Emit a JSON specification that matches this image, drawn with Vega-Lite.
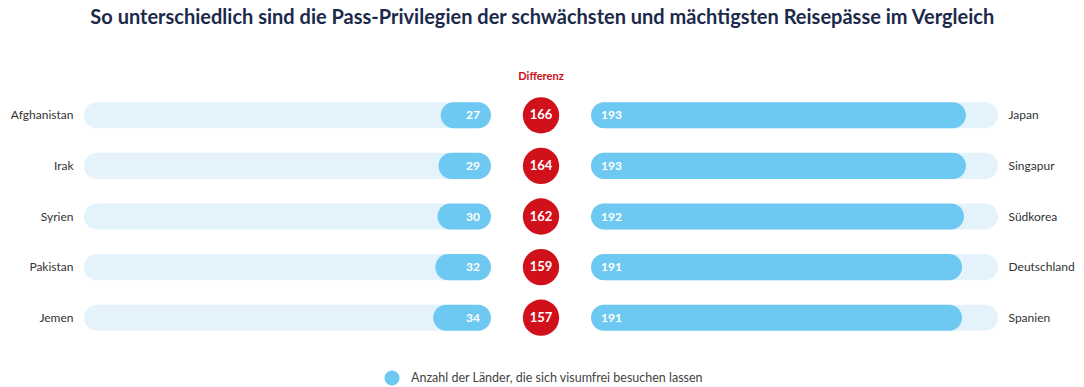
{
  "$schema": "https://vega.github.io/schema/vega-lite/v6.json",
  "padding": {"left": 10, "top": 8, "right": 0, "bottom": 0},
  "background": "white",
  "title": {
    "text": "So unterschiedlich sind die Pass-Privilegien der schwächsten und mächtigsten Reisepässe im Vergleich",
    "font": "Lato",
    "fontSize": 20,
    "fontWeight": "bold",
    "color": "#1b2a4a",
    "anchor": "middle",
    "offset": 43
  },
  "data": {
    "values": [
      {"rank": 1, "weak": "Afghanistan", "weakVal": 27, "strong": "Japan", "strongVal": 193, "diff": 166},
      {"rank": 2, "weak": "Irak", "weakVal": 29, "strong": "Singapur", "strongVal": 193, "diff": 164},
      {"rank": 3, "weak": "Syrien", "weakVal": 30, "strong": "Südkorea", "strongVal": 192, "diff": 162},
      {"rank": 4, "weak": "Pakistan", "weakVal": 32, "strong": "Deutschland", "strongVal": 191, "diff": 159},
      {"rank": 5, "weak": "Jemen", "weakVal": 34, "strong": "Spanien", "strongVal": 191, "diff": 157}
    ]
  },
  "spacing": 0,
  "hconcat": [
    {
      "width": 407,
      "height": 253,
      "encoding": {
        "y": {
          "field": "weak", "type": "nominal", "sort": {"field": "rank", "op": "min"},
          "scale": {"paddingInner": 0.485, "paddingOuter": 0.2425},
          "axis": {"title": null, "domain": false, "ticks": false, "labelPadding": 11, "labelFontSize": 12, "labelColor": "#333333", "labelFont": "Lato"}
        }
      },
      "layer": [
        {
          "mark": {"type": "bar", "cornerRadius": 13, "color": "#e3f2fb"},
          "encoding": {
            "x": {"datum": 360, "type": "quantitative", "scale": {"domain": [-20, 360], "reverse": true, "nice": false, "zero": false}, "axis": null},
            "x2": {"datum": -20}
          }
        },
        {
          "mark": {"type": "bar", "cornerRadius": 13, "color": "#6dc9f1"},
          "encoding": {
            "x": {"field": "weakVal", "type": "quantitative"},
            "x2": {"datum": -20}
          }
        },
        {
          "mark": {"type": "text", "align": "right", "baseline": "middle", "dx": -11, "color": "white", "font": "Lato", "fontWeight": "bold", "fontSize": 12},
          "encoding": {
            "x": {"datum": -20, "type": "quantitative"},
            "text": {"field": "weakVal"}
          }
        }
      ]
    },
    {
      "width": 100,
      "height": 253,
      "title": {"text": "Differenz", "font": "Lato", "fontSize": 11, "fontWeight": "bold", "color": "#c8101a", "anchor": "middle", "offset": 8},
      "encoding": {
        "y": {
          "field": "weak", "type": "nominal", "sort": {"field": "rank", "op": "min"},
          "scale": {"paddingInner": 0.485, "paddingOuter": 0.2425},
          "axis": null
        }
      },
      "layer": [
        {
          "mark": {"type": "circle", "size": 1320, "color": "#d0111b", "opacity": 1}
        },
        {
          "mark": {"type": "text", "align": "center", "baseline": "middle", "color": "white", "font": "Lato", "fontWeight": "bold", "fontSize": 13},
          "encoding": {"text": {"field": "diff"}}
        }
      ]
    },
    {
      "width": 407,
      "height": 253,
      "encoding": {
        "y": {
          "field": "strong", "type": "nominal", "sort": {"field": "rank", "op": "min"},
          "scale": {"paddingInner": 0.485, "paddingOuter": 0.2425},
          "axis": {"orient": "right", "title": null, "domain": false, "ticks": false, "labelPadding": 10, "labelFontSize": 12, "labelColor": "#333333", "labelFont": "Lato"}
        }
      },
      "layer": [
        {
          "mark": {"type": "bar", "cornerRadius": 13, "color": "#e3f2fb"},
          "encoding": {
            "x": {"datum": 209.5, "type": "quantitative", "scale": {"domain": [0, 209.5], "nice": false}, "axis": null},
            "x2": {"datum": 0}
          }
        },
        {
          "mark": {"type": "bar", "cornerRadius": 13},
          "encoding": {
            "x": {"field": "strongVal", "type": "quantitative"},
            "x2": {"datum": 0},
            "color": {
              "datum": "Anzahl der Länder, die sich visumfrei besuchen lassen",
              "type": "nominal",
              "scale": {"range": ["#6dc9f1"]},
              "legend": {
                "orient": "none", "legendX": 300, "legendY": 280, "title": null,
                "symbolType": "circle", "symbolSize": 230, "symbolStrokeWidth": 0, "symbolOpacity": 1,
                "labelFont": "Lato", "labelFontSize": 12.5, "labelColor": "#444444", "labelOffset": 11, "labelLimit": 500
              }
            }
          }
        },
        {
          "mark": {"type": "text", "align": "left", "baseline": "middle", "dx": 10, "color": "white", "font": "Lato", "fontWeight": "bold", "fontSize": 12},
          "encoding": {
            "x": {"datum": 0, "type": "quantitative"},
            "text": {"field": "strongVal"}
          }
        }
      ]
    }
  ],
  "config": {
    "view": {"stroke": null},
    "font": "Lato"
  }
}
